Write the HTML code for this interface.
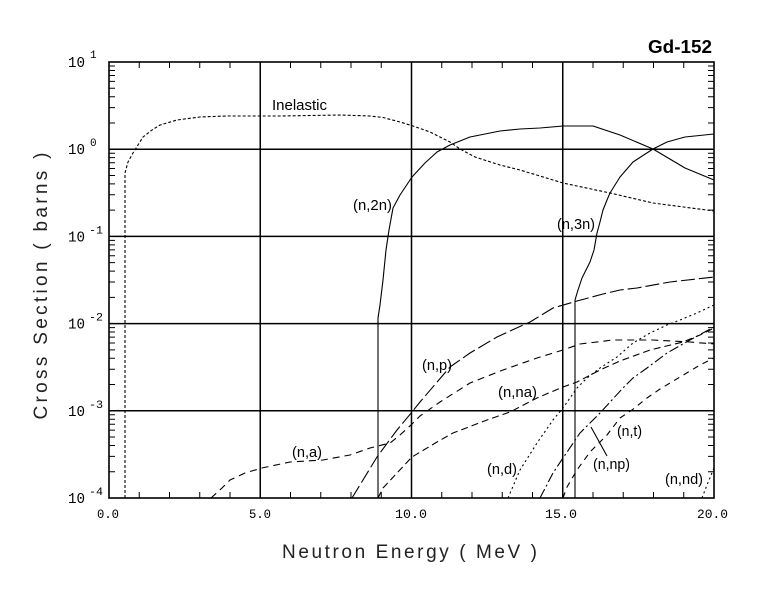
<!DOCTYPE html>
<html>
<head>
<meta charset="utf-8">
<style>
  html,body{margin:0;padding:0;background:#fff;}
  svg{display:block;}
  .lbl{font-family:"Liberation Sans",sans-serif;font-size:15px;fill:#000;}
  .tick{font-family:"Liberation Mono",monospace;fill:#000;}
</style>
</head>
<body>
<svg width="780" height="590" viewBox="0 0 780 590" xmlns="http://www.w3.org/2000/svg">
  <rect x="0" y="0" width="780" height="590" fill="#fff"/>

  <!-- Grid lines -->
  <g stroke="#000" stroke-width="1.5" fill="none">
    <line x1="260.25" y1="62" x2="260.25" y2="498"/>
    <line x1="411.5" y1="62" x2="411.5" y2="498"/>
    <line x1="562.75" y1="62" x2="562.75" y2="498"/>
    <line x1="109" y1="149.2" x2="714" y2="149.2"/>
    <line x1="109" y1="236.4" x2="714" y2="236.4"/>
    <line x1="109" y1="323.6" x2="714" y2="323.6"/>
    <line x1="109" y1="410.8" x2="714" y2="410.8"/>
  </g>

  <!-- Frame -->
  <rect x="109" y="62" width="605" height="436" fill="none" stroke="#000" stroke-width="1.6"/>

  <!-- X minor ticks (every 1 MeV) -->
  <g stroke="#000" stroke-width="1">
    <path d="M139.25 498v-6M169.5 498v-6M199.75 498v-6M230 498v-6M290.5 498v-6M320.75 498v-6M351 498v-6M381.25 498v-6M441.75 498v-6M472 498v-6M502.25 498v-6M532.5 498v-6M593 498v-6M623.25 498v-6M653.5 498v-6M683.75 498v-6"/>
    <path d="M139.25 62v6M169.5 62v6M199.75 62v6M230 62v6M290.5 62v6M320.75 62v6M351 62v6M381.25 62v6M441.75 62v6M472 62v6M502.25 62v6M532.5 62v6M593 62v6M623.25 62v6M653.5 62v6M683.75 62v6"/>
  </g>

  <!-- Y minor ticks (log 2..9) -->
  <g stroke="#000" stroke-width="1">
    <path d="
    M109 471.75h6M109 456.4h6M109 445.5h6M109 437.05h6M109 430.15h6M109 424.3h6M109 419.25h6M109 414.8h6
    M109 384.55h6M109 369.2h6M109 358.3h6M109 349.85h6M109 342.95h6M109 337.1h6M109 332.05h6M109 327.6h6
    M109 297.35h6M109 282h6M109 271.1h6M109 262.65h6M109 255.75h6M109 249.9h6M109 244.85h6M109 240.4h6
    M109 210.15h6M109 194.8h6M109 183.9h6M109 175.45h6M109 168.55h6M109 162.7h6M109 157.65h6M109 153.2h6
    M109 122.95h6M109 107.6h6M109 96.7h6M109 88.25h6M109 81.35h6M109 75.5h6M109 70.45h6M109 66h6
    M714 471.75h-6M714 456.4h-6M714 445.5h-6M714 437.05h-6M714 430.15h-6M714 424.3h-6M714 419.25h-6M714 414.8h-6
    M714 384.55h-6M714 369.2h-6M714 358.3h-6M714 349.85h-6M714 342.95h-6M714 337.1h-6M714 332.05h-6M714 327.6h-6
    M714 297.35h-6M714 282h-6M714 271.1h-6M714 262.65h-6M714 255.75h-6M714 249.9h-6M714 244.85h-6M714 240.4h-6
    M714 210.15h-6M714 194.8h-6M714 183.9h-6M714 175.45h-6M714 168.55h-6M714 162.7h-6M714 157.65h-6M714 153.2h-6
    M714 122.95h-6M714 107.6h-6M714 96.7h-6M714 88.25h-6M714 81.35h-6M714 75.5h-6M714 70.45h-6M714 66h-6"/>
  </g>

  <!-- Curves -->
  <g fill="none" stroke="#000" stroke-width="1.1" stroke-linejoin="round">
    <polyline stroke-dasharray="3,2" points="125,498 125,173 128,162 133,153 138,145 143,137 152,130 160,125 177,120 200,117 227,116 280,116 340,115 370,116 383,117.5 400,122 413,126 430,132 450,142 460,149 475,157 500,165 520,170 563,183 610,193 653,203 714,211"/>
    <polyline points="378,498 378,318 380,305 383,280 386,250 389,230 393,208 400,195 412,177 425,163 437,152 450,145 470,137 500,131 520,129 540,128 563,126 593,126 620,135 653,149 685,168 714,180"/>
    <polyline points="575,498 575,300 578,290 582,278 590,262 594,250 597,233 600,222 603,210 607,200 610,193 620,177 633,162 653,149 667,142 685,137 714,134"/>
    <polyline stroke-dasharray="14,4" points="352,498 377,457 397,430 412,412 420,402 450,367 470,353 497,337 510,331 530,322 553,308 577,301 603,294 620,290 637,288 670,282 714,277"/>
    <polyline stroke-dasharray="7,5" points="211,498 222,488 230,480 245,473 262,468 290,462 323,460 350,455 370,448 390,443 400,435 412,424 420,416 440,402 470,383 503,370 537,358 563,350 580,344 613,340 653,340 690,342 714,344"/>
    <polyline stroke-dasharray="7,4" points="378,498 383,488 397,473 412,457 437,442 453,433 487,420 510,412 537,398 563,387 577,382 600,370 620,361 650,350 683,342 700,335 714,328"/>
    <polyline stroke-dasharray="2,3" points="508,498 520,470 537,443 553,420 563,408 577,388 587,378 600,368 617,357 633,343 650,333 667,325 680,320 697,313 714,305"/>
    <polyline stroke-dasharray="10,3,2,3" points="540,498 553,473 563,458 580,433 600,413 622,389 633,378 647,368 667,353 690,340 714,327"/>
    <polyline stroke-dasharray="6,5" points="563,498 567,487 577,470 590,452 607,435 620,418 632,410 647,398 660,389 680,377 700,365 714,358"/>
    <polyline stroke-dasharray="2,3" points="702,498 707,485 714,468"/>
    <line x1="591" y1="427" x2="607" y2="456"/>
  </g>

  <!-- Curve labels -->
  <text class="lbl" x="272" y="110" textLength="55" lengthAdjust="spacingAndGlyphs">Inelastic</text>
  <text class="lbl" x="353" y="210" textLength="39" lengthAdjust="spacingAndGlyphs">(n,2n)</text>
  <text class="lbl" x="557" y="229" textLength="38" lengthAdjust="spacingAndGlyphs">(n,3n)</text>
  <text class="lbl" x="422" y="370" textLength="30" lengthAdjust="spacingAndGlyphs">(n,p)</text>
  <text class="lbl" x="498" y="397" textLength="39" lengthAdjust="spacingAndGlyphs">(n,na)</text>
  <text class="lbl" x="292" y="457" textLength="30" lengthAdjust="spacingAndGlyphs">(n,a)</text>
  <text class="lbl" x="487" y="474" textLength="30" lengthAdjust="spacingAndGlyphs">(n,d)</text>
  <text class="lbl" x="617" y="436" textLength="25" lengthAdjust="spacingAndGlyphs">(n,t)</text>
  <text class="lbl" x="593" y="469" textLength="37" lengthAdjust="spacingAndGlyphs">(n,np)</text>
  <text class="lbl" x="665" y="484" textLength="38" lengthAdjust="spacingAndGlyphs">(n,nd)</text>

  <!-- Title -->
  <text x="712" y="53" text-anchor="end" font-family="Liberation Sans, sans-serif" font-weight="bold" font-size="18" textLength="64" lengthAdjust="spacingAndGlyphs">Gd-152</text>

  <!-- Y tick labels -->
  <g class="tick">
    <text x="68" y="67" font-size="15" textLength="17" lengthAdjust="spacingAndGlyphs">10</text>
    <text x="90" y="58" font-size="11">1</text>
    <text x="68" y="154" font-size="15" textLength="17" lengthAdjust="spacingAndGlyphs">10</text>
    <text x="90" y="146" font-size="11">0</text>
    <text x="68" y="241.5" font-size="15" textLength="17" lengthAdjust="spacingAndGlyphs">10</text>
    <text x="89" y="233.5" font-size="11" textLength="14" lengthAdjust="spacingAndGlyphs">-1</text>
    <text x="68" y="328.5" font-size="15" textLength="17" lengthAdjust="spacingAndGlyphs">10</text>
    <text x="89" y="320.5" font-size="11" textLength="14" lengthAdjust="spacingAndGlyphs">-2</text>
    <text x="68" y="416" font-size="15" textLength="17" lengthAdjust="spacingAndGlyphs">10</text>
    <text x="89" y="408" font-size="11" textLength="14" lengthAdjust="spacingAndGlyphs">-3</text>
    <text x="68" y="503" font-size="15" textLength="17" lengthAdjust="spacingAndGlyphs">10</text>
    <text x="89" y="495" font-size="11" textLength="14" lengthAdjust="spacingAndGlyphs">-4</text>
  </g>

  <!-- X tick labels -->
  <g class="tick" font-size="13">
    <text x="97" y="518" textLength="22" lengthAdjust="spacingAndGlyphs">0.0</text>
    <text x="249" y="518" textLength="22" lengthAdjust="spacingAndGlyphs">5.0</text>
    <text x="395" y="518" textLength="32" lengthAdjust="spacingAndGlyphs">10.0</text>
    <text x="545" y="518" textLength="32" lengthAdjust="spacingAndGlyphs">15.0</text>
    <text x="697" y="518" textLength="31" lengthAdjust="spacingAndGlyphs">20.0</text>
  </g>

  <!-- Axis titles -->
  <text x="282" y="558" font-family="Liberation Sans, sans-serif" font-size="19" fill="#222" textLength="255" lengthAdjust="spacing">Neutron Energy ( MeV )</text>
  <text transform="translate(47,286) rotate(-90)" text-anchor="middle" font-family="Liberation Sans, sans-serif" font-size="19" fill="#222" textLength="267" lengthAdjust="spacing">Cross Section ( barns )</text>
</svg>
</body>
</html>
